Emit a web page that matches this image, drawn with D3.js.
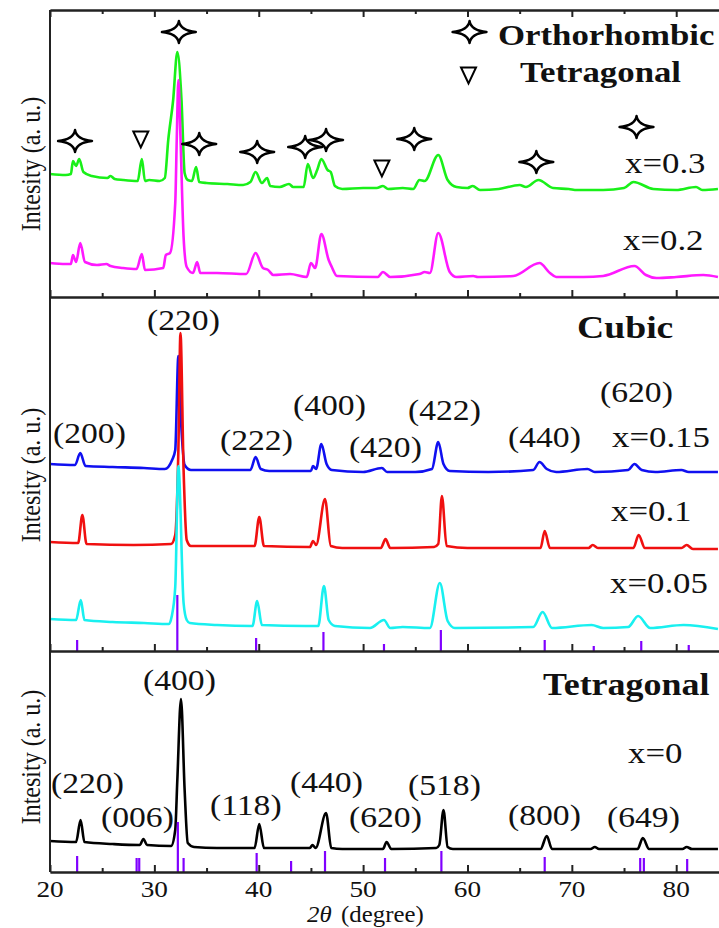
<!DOCTYPE html>
<html>
<head>
<meta charset="utf-8">
<script src="https://cdn.jsdelivr.net/npm/d3@7"></script>
<style>
  body { margin: 0; background: #fff; }
  svg text { font-family: "Liberation Serif", "Times New Roman", serif; fill: #111; }
</style>
</head>
<body>
<div id="chart"></div>
<script>
// ---- data (2theta, intensity a.u.) ----
var green_03 = [[20,123],[21.5,122],[22.0,123],[22.2,136],[22.5,131],[22.8,138],[23.2,125],[24,121],[25.5,119],[25.8,121],[26.2,118],[27,117],[28.4,116],[28.8,138],[29.1,116],[29.5,117],[30.5,116],[31.0,119],[31.33,157],[31.8,197],[32.2,245],[32.6,197],[32.9,124],[33.2,117],[33.6,116],[34.0,130],[34.3,115],[35,114],[37,113],[38.5,112],[39.2,115],[39.7,125],[40.3,114],[40.8,119],[41.1,111],[42,110],[42.9,113],[43.3,110],[44.3,110],[44.7,133],[45.2,119],[45.6,127],[46.0,138],[46.6,127],[46.9,125],[47.3,111],[48,108],[50,109],[51.3,109],[51.9,111],[52.4,108],[53.8,109],[54.8,108],[55.4,117],[55.9,116],[57.2,142],[58.1,117],[58.95,110],[60.0,109],[60.5,111],[61.2,107],[63,108],[65.0,112],[65.6,110],[66.8,117],[68.2,109],[69.7,108],[70.5,107],[73.0,107],[75.0,109],[75.9,115],[77.8,108],[80,107],[81.9,110],[82.5,107],[84,108]];
var magenta_02 = [[20,34],[21.5,33],[22.0,33],[22.2,42],[22.5,35],[22.9,54],[23.35,35],[24.5,32],[25.4,33],[25.8,31],[27,29],[28.3,28],[28.8,43],[29.1,27],[30.85,29],[31.1,42],[31.5,44],[32.0,94],[32.15,160],[32.3,217],[32.5,160],[32.8,60],[33.1,30],[33.7,24],[34.1,35],[34.4,24],[36,24],[38.8,23],[39.7,44],[40.4,29],[40.9,27],[41.4,22],[43.0,23],[44.6,20],[45.0,34],[45.4,29],[46.0,63],[46.7,37],[47.0,30],[47.5,21],[51.4,20],[51.9,25],[52.6,20],[55.4,23],[55.9,25],[56.4,24],[57.2,64],[58.3,25],[58.95,20],[60.55,21],[61,20],[64.4,21],[66.9,34],[67.9,24],[68.5,20],[71.1,20],[73,21],[76.0,31],[77.1,22],[78.1,19],[80,20],[82.6,22],[84,20]];
var blue_015 = [[20,187],[22.4,186],[22.9,198],[23.4,185],[26,184],[29,183],[31.0,182],[31.7,191],[32.0,201],[32.3,295],[32.6,221],[32.9,186],[33.5,181],[37,181],[39.2,181],[39.7,194],[40.2,182],[41,180],[45,180],[45.2,185],[45.5,182],[46.0,207],[46.5,187],[47,181],[50,179],[51.8,183],[52.3,179],[55,179],[56.6,182],[57.2,209],[57.7,187],[58.3,180],[62,179],[66.3,181],[66.9,189],[67.6,182],[68.5,179],[71.5,182],[72.2,179],[75.4,181],[76.0,187],[76.7,181],[78,179],[80.5,181],[81.2,179],[84,179]];
var red_01 = [[20,109],[22.7,108],[23.1,136],[23.5,107],[28,106],[31.6,107],[32.0,116],[32.3,201],[32.5,318],[32.8,181],[33.1,111],[33.5,105],[39.6,105],[40.05,134],[40.5,105],[44.9,104],[45.2,110],[45.5,106],[46.35,152],[46.9,105],[48,103],[51.7,103],[52.15,112],[52.6,103],[56.8,104],[57.2,107],[57.55,155],[58.0,105],[60,103],[67.0,103],[67.4,120],[67.9,103],[71.6,103],[72.0,106],[72.5,103],[75.9,103],[76.4,116],[77.0,103],[80.5,103],[81,106],[81.6,102],[84,102]];
var cyan_005 = [[20,32],[22.5,31],[22.95,51],[23.3,31],[26,29],[29,28],[31.4,27],[31.65,34],[32.0,64],[32.3,185],[32.8,48],[33.1,31],[33.4,28],[36,26],[39.4,25],[39.85,50],[40.3,26],[44.5,25],[45.7,25],[46.25,65],[46.7,31],[47.3,25],[50.65,23],[52.0,31],[52.6,23],[53.8,24],[56.4,23],[57.35,68],[58.1,30],[58.8,23],[66.3,24],[67.2,39],[68.1,23],[71.9,26],[73.0,23],[75.4,24],[76.35,35],[77.5,23],[80.7,26],[84,22]];
var black_0 = [[20,31],[22.5,30],[22.93,52],[23.3,30],[26,28],[28.6,27],[28.95,33],[29.3,27],[31.6,26],[32.0,42],[32.2,92],[32.55,173],[32.9,82],[33.2,29],[33.8,25],[36,24],[39.6,24],[40.05,48],[40.5,24],[44.9,24],[45.15,27],[45.45,24],[46.45,59],[46.95,24],[48,23],[51.9,23],[52.25,30],[52.7,23],[57.0,24],[57.3,27],[57.7,62],[58.1,25],[58.6,23],[67.0,23],[67.6,36],[68.1,23],[71.8,23],[72.2,25],[72.6,23],[76.3,23],[76.8,34],[77.4,23],[80.6,23],[81.0,25],[81.5,23],[84,23]];

// reference (standard card) lines
var cubic_ref = [[22.6,11],[32.2,56],[39.75,13],[46.2,19],[52.0,7],[57.45,21],[67.4,11],[72.1,5],[76.65,10],[81.2,6]];
var tetra_ref = [[22.6,16],[28.3,14],[28.55,14],[32.25,50],[32.8,14],[39.8,19],[43.1,11],[46.35,21],[52.1,14],[57.5,21],[67.4,15],[76.55,14],[76.9,14],[81.05,13]];

// phase markers in top panel
var ortho_marks = [[22.4,156],[32.35,265],[34.3,153],[39.85,145],[44.45,150],[46.45,157],[54.9,158],[66.6,135],[76.2,170]];
var tetra_marks = [[28.7,158],[51.8,129]];

var major_ticks = [20, 30, 40, 50, 60, 70, 80];
var minor_ticks = [25, 35, 45, 55, 65, 75];

var SX = 1.16; // text in the figure is slightly stretched horizontally

var width = 719, height = 928;
var svg = d3.select("#chart").append("svg")
  .attr("width", width)
  .attr("height", height);

var x = d3.scaleLinear().domain([20, 84.1]).range([50, 719]);

// panels: a.u. measured from each panel's bottom axis
var panels = [
  { top: 10, bottom: 297, topAxis: true },
  { top: 297, bottom: 651 },
  { top: 651, bottom: 872 }
];
panels.forEach(function(p) {
  p.y = d3.scaleLinear().domain([0, p.bottom - p.top]).range([p.bottom, p.top]);
});

var line = function(yScale) {
  return d3.line()
    .x(function(d) { return x(d[0]); })
    .y(function(d) { return yScale(d[1]); })
    .curve(d3.curveMonotoneX);
};

function drawSeries(p, data, color) {
  svg.append("path")
    .datum(data)
    .attr("fill", "none")
    .attr("stroke", color)
    .attr("stroke-width", 2.6)
    .attr("stroke-linejoin", "round")
    .attr("d", line(p.y));
}

function drawRef(p, data) {
  svg.append("g").selectAll("line")
    .data(data).enter().append("line")
    .attr("x1", function(d) { return x(d[0]); })
    .attr("x2", function(d) { return x(d[0]); })
    .attr("y1", p.y(0))
    .attr("y2", function(d) { return p.y(d[1]); })
    .attr("stroke", "#8000ff")
    .attr("stroke-width", 2.2);
}

function label(txt, px, py, size, bold) {
  return svg.append("text")
    .attr("transform", "translate(" + px + "," + py + ") scale(" + SX + ",1)")
    .style("font-size", size + "px")
    .style("font-weight", bold ? "bold" : "normal")
    .text(txt);
}

// top panel
drawSeries(panels[0], green_03, "#19f019");
drawSeries(panels[0], magenta_02, "#ff19ff");
// middle panel
drawSeries(panels[1], blue_015, "#1010f0");
drawSeries(panels[1], red_01, "#f01010");
drawSeries(panels[1], cyan_005, "#19f0f0");
drawRef(panels[1], cubic_ref);
// bottom panel
drawSeries(panels[2], black_0, "#000");
drawRef(panels[2], tetra_ref);

// axes
panels.forEach(function(p, i) {
  var g = svg.append("g").attr("class", "axis");
  g.append("line")
    .attr("x1", 50).attr("x2", 50)
    .attr("y1", p.top).attr("y2", p.bottom)
    .attr("stroke", "#222").attr("stroke-width", 2);
  var major = d3.axisBottom(x).tickValues(major_ticks).tickSize(-7).tickSizeOuter(0).tickFormat("");
  var minor = d3.axisBottom(x).tickValues(minor_ticks).tickSize(-4).tickSizeOuter(0).tickFormat("");
  g.append("g").attr("transform", "translate(0," + p.bottom + ")").call(major);
  g.append("g").attr("transform", "translate(0," + p.bottom + ")").call(minor);
  if (p.topAxis) {
    g.append("g").attr("transform", "translate(0," + p.top + ")")
      .call(d3.axisTop(x).tickValues(major_ticks).tickSize(-7).tickSizeOuter(0).tickFormat(""));
    g.append("g").attr("transform", "translate(0," + p.top + ")")
      .call(d3.axisTop(x).tickValues(minor_ticks).tickSize(-4).tickSizeOuter(0).tickFormat(""));
  }
});
svg.selectAll(".axis path").attr("stroke", "#222").attr("stroke-width", 2);
svg.selectAll(".axis line").attr("stroke", "#222").attr("stroke-width", 2);

// x tick labels
svg.append("g").selectAll("text")
  .data(major_ticks).enter().append("text")
  .attr("transform", function(d) { return "translate(" + x(d) + ",897) scale(" + SX + ",1)"; })
  .attr("text-anchor", "middle")
  .style("font-size", "23.5px")
  .text(function(d) { return d; });

// x title
var xt = svg.append("text")
  .attr("transform", "translate(307,922) scale(1.08,1)")
  .style("font-size", "23px");
xt.append("tspan").style("font-style", "italic").text("2θ ");
xt.append("tspan").attr("dx", 3).text("(degree)");

// y titles
[164, 475, 757].forEach(function(cy) {
  svg.append("text")
    .attr("transform", "translate(40," + cy + ") rotate(-90) scale(1,1.1)")
    .attr("text-anchor", "middle")
    .style("font-size", "24px")
    .text("Intesity (a. u.)");
});

// markers
var starPath = "M-17,0 Q-1.5,-1.5 0,-11 Q1.5,-1.5 17,0 Q1.5,1.5 0,11 Q-1.5,1.5 -17,0 Z";
var triPath = "M-7.5,-7.5 L7.5,-7.5 L0,8.5 Z";
var py0 = panels[0].y;
svg.append("g").selectAll("path")
  .data(ortho_marks.concat([[60.2, 265]])).enter().append("path")
  .attr("d", starPath)
  .attr("transform", function(d) { return "translate(" + x(d[0]) + "," + py0(d[1]) + ")"; })
  .attr("fill", "#fff").attr("stroke", "#000").attr("stroke-width", 2.4)
  .attr("stroke-linejoin", "round");
svg.append("g").selectAll("path")
  .data(tetra_marks.concat([[60.1, 222]])).enter().append("path")
  .attr("d", triPath)
  .attr("transform", function(d) { return "translate(" + x(d[0]) + "," + py0(d[1]) + ")"; })
  .attr("fill", "#fff").attr("stroke", "#000").attr("stroke-width", 2);

// legend text
label("Orthorhombic", 498, 45, 30, true);
label("Tetragonal", 520, 82, 30, true);

// sample labels
label("x=0.3", 625, 173, 30);
label("x=0.2", 623, 250, 30);
label("x=0.15", 612, 447, 30);
label("x=0.1", 611, 521, 30);
label("x=0.05", 610, 593, 30);
label("x=0", 628, 763, 30);
label("Cubic", 577, 338, 32.5, true);
label("Tetragonal", 543, 695, 31, true);

// hkl labels
var hkl = [
  ["(220)", 147, 330], ["(620)", 600, 402], ["(400)", 293, 415], ["(422)", 408, 420],
  ["(200)", 53, 443], ["(222)", 220, 450], ["(440)", 508, 447], ["(420)", 349, 457],
  ["(400)", 143, 690], ["(220)", 51, 793], ["(440)", 290, 792], ["(518)", 408, 795],
  ["(118)", 210, 815], ["(006)", 101, 827], ["(620)", 349, 827], ["(800)", 508, 825],
  ["(649)", 607, 827]
];
hkl.forEach(function(h) { label(h[0], h[1], h[2], 29); });
</script>
</body>
</html>
